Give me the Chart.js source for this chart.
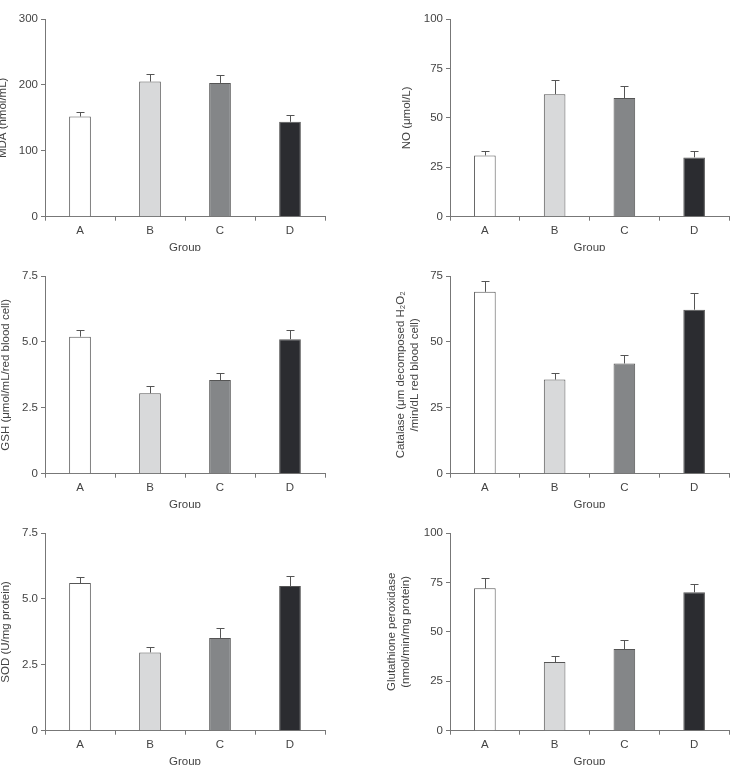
<!DOCTYPE html>
<html><head><meta charset="utf-8">
<script src="https://cdn.jsdelivr.net/npm/chart.js@4/dist/chart.umd.min.js"></script>
<style>
html,body{margin:0;padding:0;background:#fff;}
body{width:736px;height:765px;position:relative;overflow:hidden;}
.p{position:absolute;width:368px;height:251px;}
canvas{display:block;}
</style></head><body>
<div class="p" style="left:0;top:0"><canvas id="c1" width="368" height="251"></canvas></div>
<div class="p" style="left:368px;top:0"><canvas id="c2" width="368" height="251"></canvas></div>
<div class="p" style="left:0;top:257px"><canvas id="c3" width="368" height="251"></canvas></div>
<div class="p" style="left:368px;top:257px"><canvas id="c4" width="368" height="251"></canvas></div>
<div class="p" style="left:0;top:514px"><canvas id="c5" width="368" height="251"></canvas></div>
<div class="p" style="left:368px;top:514px"><canvas id="c6" width="368" height="251"></canvas></div>
<script>
const groups = ['A', 'B', 'C', 'D'];
const mdaValues = [152, 205, 203, 144];
const mdaErrors = [7, 12, 12, 11];
const noValues = [31, 62, 60, 30];
const noErrors = [2, 7, 6, 3];
const gshValues = [5.2, 3.05, 3.55, 5.1];
const gshErrors = [0.25, 0.28, 0.26, 0.35];
const catalaseValues = [69, 35.7, 41.8, 62.2];
const catalaseErrors = [4, 2.6, 3.3, 6.4];
const sodValues = [5.6, 2.97, 3.52, 5.49];
const sodErrors = [0.24, 0.19, 0.36, 0.39];
const gpxValues = [72, 34.7, 41.3, 70];
const gpxErrors = [5, 3.2, 4.7, 4.2];
const barColors = ['#ffffff', '#d8d9da', '#848688', '#2b2c30'];

const FONT = {family: "'Liberation Sans', Arial, sans-serif", size: 11.5, lineHeight: 1.2};
const TXT = '#444';
const AXIS = '#777';

const errorBarPlugin = {
  id: 'errorBars',
  afterDatasetsDraw(chart) {
    const ctx = chart.ctx;
    const meta = chart.getDatasetMeta(0);
    const ys = chart.scales.y;
    const ds = chart.data.datasets[0];
    ctx.save();
    ctx.strokeStyle = '#555';
    ctx.lineWidth = 1;
    meta.data.forEach((bar, i) => {
      const top = Math.round(ys.getPixelForValue(ds.data[i] + ds.errors[i])) + 0.5;
      const x = Math.round(bar.x) + 0.5;
      ctx.beginPath();
      ctx.moveTo(x, bar.y);
      ctx.lineTo(x, top);
      ctx.moveTo(x - 4, top);
      ctx.lineTo(x + 4, top);
      ctx.stroke();
    });
    ctx.restore();
  }
};

function makePanel(id, values, errors, max, step, title, titlePad, decimals, yWidth, padRight) {
  return new Chart(document.getElementById(id), {
    type: 'bar',
    data: {
      labels: groups,
      datasets: [{
        data: values,
        errors: errors,
        backgroundColor: barColors,
        borderColor: '#555',
        borderWidth: 1,
        barPercentage: 0.31,
        categoryPercentage: 1
      }]
    },
    options: {
      responsive: false,
      animation: false,
      events: [],
      layout: {padding: {left: 0, right: padRight, top: 19, bottom: 0}, autoPadding: false},
      plugins: {legend: {display: false}, tooltip: {enabled: false}},
      scales: {
        x: {
          offset: true,
          grid: {display: true, drawOnChartArea: false, drawTicks: true, tickLength: 4, color: AXIS, offset: true},
          border: {display: true, color: AXIS, width: 1},
          ticks: {color: TXT, font: FONT, padding: 3, maxRotation: 0, autoSkip: false},
          title: {display: true, text: 'Group', color: TXT, font: FONT, padding: {top: 0, bottom: -3.9}},
          afterFit(s) { s.height = 34.3; }
        },
        y: {
          min: 0,
          max: max,
          ticks: {
            stepSize: step,
            color: TXT,
            font: FONT,
            padding: 3,
            callback: v => (v === 0 ? '0' : v.toFixed(decimals))
          },
          grid: {display: true, drawOnChartArea: false, drawTicks: true, tickLength: 4, color: AXIS},
          border: {display: true, color: AXIS, width: 1},
          title: {display: true, text: title, color: TXT, font: FONT, padding: {top: titlePad, bottom: 0}},
          afterFit(s) { s.width = yWidth; }
        }
      }
    },
    plugins: [errorBarPlugin]
  });
}

makePanel('c1', mdaValues, mdaErrors, 300, 100, 'MDA (nmol/mL)', -4.4, 0, 45, 43);
makePanel('c2', noValues, noErrors, 100, 25, 'NO (μmol/L)', 32.1, 0, 82, 7);
makePanel('c3', gshValues, gshErrors, 7.5, 2.5, 'GSH (μmol/mL/red blood cell)', -0.9, 1, 45, 43);
makePanel('c4', catalaseValues, catalaseErrors, 75, 25, ['Catalase (μm decomposed H₂O₂', '/min/dL red blood cell)'], 26.1, 0, 82, 7);
makePanel('c5', sodValues, sodErrors, 7.5, 2.5, 'SOD (U/mg protein)', -0.9, 1, 45, 43);
makePanel('c6', gpxValues, gpxErrors, 100, 25, ['Glutathione peroxidase', '(nmol/min/mg protein)'], 17.1, 0, 82, 7);
</script>
</body></html>
